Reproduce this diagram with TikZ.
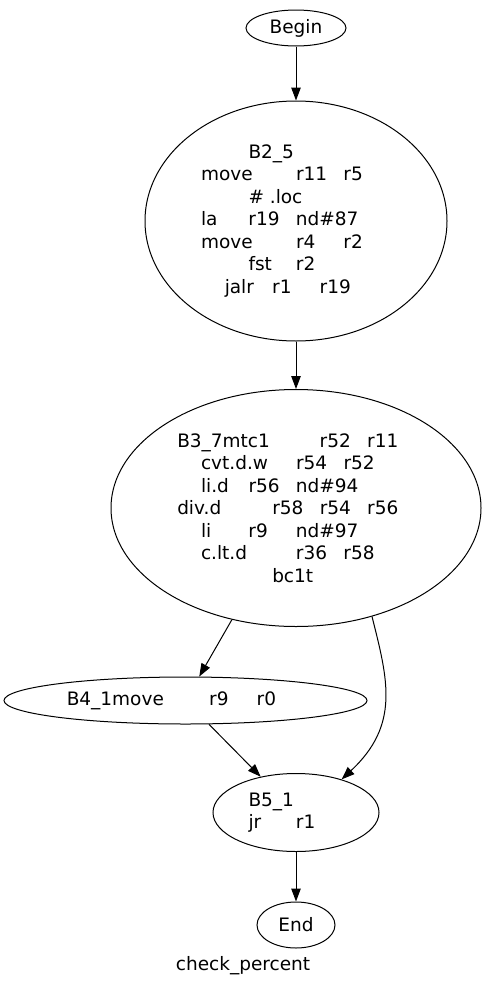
\documentclass[tikz,border=0pt]{standalone}
\usepackage{fontspec}
\setmainfont{DejaVu Sans}
\usetikzlibrary{arrows.meta,shapes.geometric}

\newlength{\tabw}
\setlength{\tabw}{47.5pt}
\newcommand{\tb}[2]{\makebox[#1\tabw][l]{#2}}

\tikzset{
  block/.style={draw, ellipse, inner sep=0pt, align=center, line width=1pt,
    font=\fontsize{18.5}{22.5}\selectfont},
  edge/.style={-{Triangle[length=13pt,width=9.5pt]}, line width=1pt},
}

\begin{document}
\begin{tikzpicture}[x=1pt,y=-1pt]
  \useasboundingbox (0,0) rectangle (485,988);

  \node[block, minimum width=100pt, minimum height=36pt] (Begin) at (296,28) {Begin};

  \node[block, minimum width=302pt, minimum height=240pt] (B2_5) at (296,221) {%
    \tb{2}{B2\_5}\\
    \tb{2}{move}\tb{1}{r11}\tb{1}{r5}\\
    \tb{2}{\# .loc}\\
    \tb{1}{la}\tb{1}{r19}\tb{2}{nd\#87}\\
    \tb{2}{move}\tb{1}{r4}\tb{1}{r2}\\
    \tb{1}{fst}\tb{1}{r2}\\
    \tb{1}{jalr}\tb{1}{r1}\tb{1}{r19}};

  \node[block, minimum width=370pt, minimum height=237pt] (B3_7) at (296,508) {%
    \tb{3}{B3\_7mtc1}\tb{1}{r52}\tb{1}{r11}\\
    \tb{2}{cvt.d.w}\tb{1}{r54}\tb{1}{r52}\\
    \tb{1}{li.d}\tb{1}{r56}\tb{2}{nd\#94}\\
    \tb{2}{div.d}\tb{1}{r58}\tb{1}{r54}\tb{1}{r56}\\
    \tb{1}{li}\tb{1}{r9}\tb{2}{nd\#97}\\
    \tb{2}{c.lt.d}\tb{1}{r36}\tb{1}{r58}\\
    \tb{1}{bc1t}};

  \node[block, minimum width=363pt, minimum height=47pt] (B4_1) at (185.5,700.5) {%
    \tb{3}{B4\_1move}\tb{1}{r9}\tb{1}{r0}};

  \node[block, minimum width=166pt, minimum height=78pt] (B5_1) at (296,812.5) {%
    \tb{2}{B5\_1}\\
    \tb{1}{jr}\tb{1}{r1}};

  \node[block, minimum width=78pt, minimum height=46pt] (End) at (296,925) {End};

  \node[font=\fontsize{18.5}{22.5}\selectfont] (title) at (243,966) {check\_percent};

  \draw[edge] (Begin) -- (B2_5);
  \draw[edge] (B2_5) -- (B3_7);
  \draw[edge] (B3_7) -- (B4_1);
  \draw[edge] (B3_7.-55) .. controls (388,680) and (400,725) .. (B5_1.36);
  \draw[edge] (B4_1) -- (B5_1);
  \draw[edge] (B5_1) -- (End);

\end{tikzpicture}
\end{document}
